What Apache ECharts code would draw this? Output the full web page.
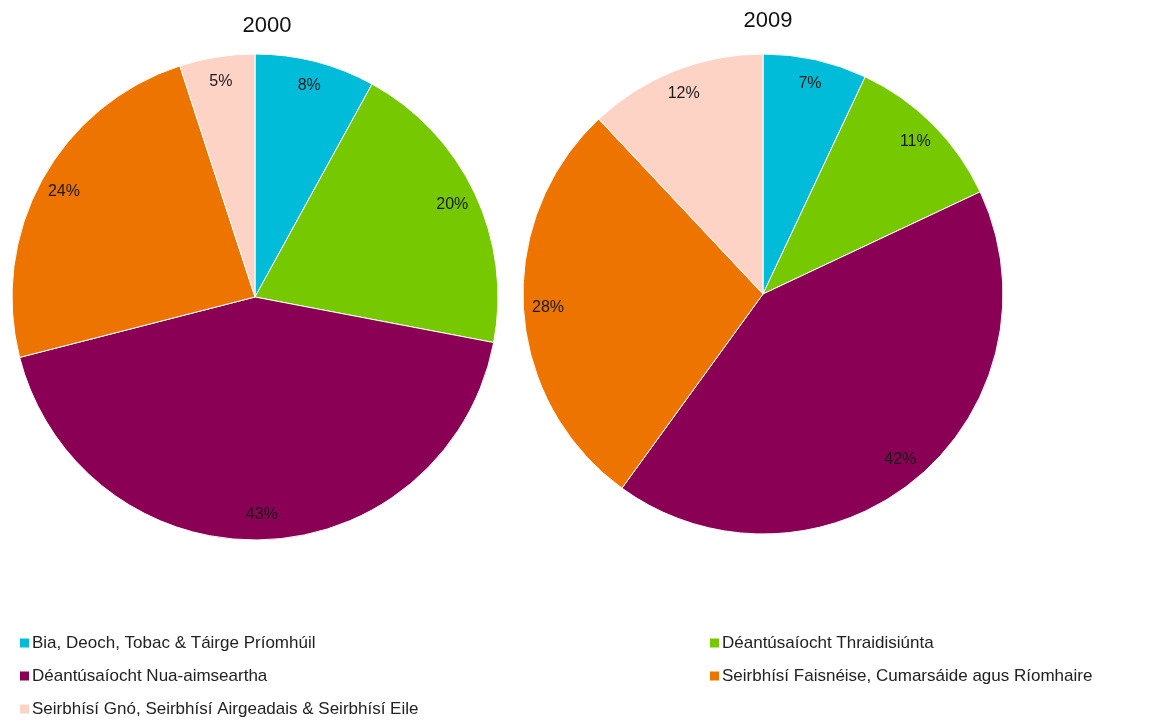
<!DOCTYPE html>
<html>
<head>
<meta charset="utf-8">
<script src="https://cdn.jsdelivr.net/npm/echarts@6/dist/echarts.min.js"></script>
<style>
  html, body { margin: 0; padding: 0; background: #fff; }
  #chart { width: 1162px; height: 720px; }
</style>
</head>
<body>
<div id="chart"></div>
<script>
// catagóirí agus luachanna (%)
const sectors = [
  'Bia, Deoch, Tobac & Táirge Príomhúil',
  'Déantúsaíocht Thraidisiúnta',
  'Déantúsaíocht Nua-aimseartha',
  'Seirbhísí Faisnéise, Cumarsáide agus Ríomhaire',
  'Seirbhísí Gnó, Seirbhísí Airgeadais & Seirbhísí Eile'
]
const years = ['2000', '2009']
const values2000 = [8, 20, 43, 24, 5]
const values2009 = [7, 11, 42, 28, 12]
const colors = ['#00bcd8', '#76c800', '#8a0054', '#ee7400', '#fdd3c6']

const font = '"Liberation Sans", Arial, sans-serif'

function toData(vals) {
  return sectors.map((name, i) => ({ name: name, value: vals[i] }))
}

// pie + label ring (labels sit near the rim)
function pieSeries(vals, center, r) {
  return [
    {
      type: 'pie',
      center: center,
      radius: r,
      startAngle: 90,
      clockwise: true,
      label: { show: false },
      labelLine: { show: false },
      itemStyle: { borderColor: '#ffffff', borderWidth: 1 },
      emphasis: { disabled: true },
      data: toData(vals)
    },
    {
      type: 'pie',
      center: center,
      radius: [r * 0.77, r],
      startAngle: 90,
      clockwise: true,
      silent: true,
      itemStyle: { color: 'rgba(0,0,0,0)' },
      label: {
        show: true,
        position: 'inside',
        formatter: '{c}%',
        color: '#1a1a1a',
        fontSize: 16,
        fontFamily: font
      },
      labelLine: { show: false },
      emphasis: { disabled: true },
      data: toData(vals)
    }
  ]
}

// legend laid out in two columns, row by row
function legendItem(i) {
  const col = i % 2
  const row = Math.floor(i / 2)
  return {
    left: col === 0 ? 18 : 708,
    top: 634 + row * 33,
    padding: 0,
    itemWidth: 11,
    itemHeight: 11,
    icon: 'rect',
    selectedMode: false,
    textStyle: { fontFamily: font, fontSize: 17, lineHeight: 18, color: '#222', padding: [0, 0, 0, -3] },
    data: [sectors[i]]
  }
}

const myChart = echarts.init(document.getElementById('chart'))
const option = {
  color: colors,
  animation: false,
  title: [
    { text: years[0], left: 262, top: 10, textAlign: 'center', textStyle: { fontFamily: font, fontSize: 22, fontWeight: 'normal', color: '#111' } },
    { text: years[1], left: 763, top: 5, textAlign: 'center', textStyle: { fontFamily: font, fontSize: 22, fontWeight: 'normal', color: '#111' } }
  ],
  legend: sectors.map((s, i) => legendItem(i)),
  series: [].concat(
    pieSeries(values2000, [255, 297], 243),
    pieSeries(values2009, [763, 294], 240)
  )
}
myChart.setOption(option)
</script>
</body>
</html>
